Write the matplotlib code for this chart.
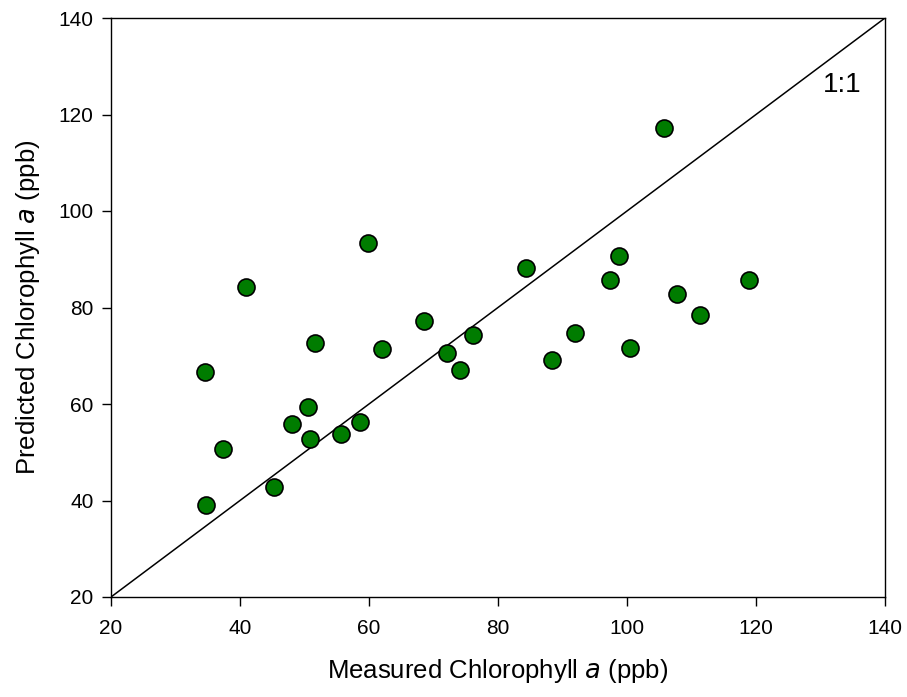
import matplotlib
matplotlib.use("Agg")
import matplotlib.pyplot as plt

plt.rcParams['font.family'] = ['Liberation Sans', 'DejaVu Sans']

measured = [34.6, 34.8, 37.4, 41.0, 45.3, 48.0, 50.6, 50.9, 51.6, 55.6, 58.6, 59.8,
            62.0, 68.5, 72.1, 74.1, 76.1, 84.3, 88.4, 91.9, 97.3, 98.8, 100.5,
            105.8, 107.7, 111.3, 118.9]
predicted = [66.6, 39.0, 50.7, 84.3, 42.7, 55.9, 59.4, 52.7, 72.6, 53.7, 56.3, 93.3,
             71.5, 77.3, 70.6, 67.0, 74.4, 88.2, 69.1, 74.7, 85.6, 90.7, 71.7,
             117.1, 82.7, 78.4, 85.7]
ticks = [20, 40, 60, 80, 100, 120, 140]
one_to_one = [20, 140]

fig = plt.figure(figsize=(9.07, 6.97), dpi=100)
ax = fig.add_axes([111/907, 1-597/697, (885-111)/907, (597-18)/697])

ax.plot(one_to_one, one_to_one, color='black', lw=1.1, zorder=2)
ax.scatter(measured, predicted, s=150, facecolor='#007c00', edgecolor='black',
           linewidth=1.2, zorder=3)

ax.set_xlim(20, 140)
ax.set_ylim(20, 140)
ax.set_xticks(ticks)
ax.set_yticks(ticks)
ax.tick_params(direction='out', length=6.5, width=1, labelsize=15,
               top=False, right=False)
ax.tick_params(axis='x', pad=9)
ax.tick_params(axis='y', pad=6)
for s in ax.spines.values():
    s.set_linewidth(1)

ax.set_xlabel('Measured Chlorophyll $\\it{a}$ (ppb)', fontsize=18.5, labelpad=14)
ax.set_ylabel('Predicted Chlorophyll $\\it{a}$ (ppb)', fontsize=18.5, labelpad=12)
ax.text(133.3, 126.1, '1:1', fontsize=20, ha='center', va='center')

fig.savefig('out.png', dpi=100)
